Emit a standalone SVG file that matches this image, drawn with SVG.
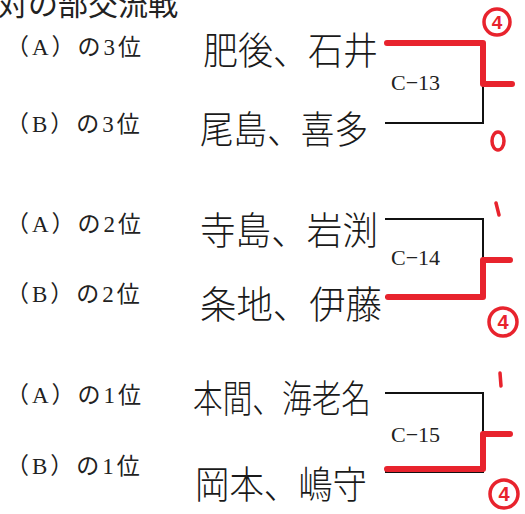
<svg xmlns="http://www.w3.org/2000/svg" width="525" height="514" viewBox="0 0 525 514">
<style>
.lbl{font-family:"Liberation Serif","Noto Sans CJK JP",serif;font-size:23px;fill:#222;letter-spacing:3px}
.nm{font-family:"Noto Sans CJK JP",sans-serif;font-size:38px;fill:#1a1a1a;font-weight:300}
.code{font-family:"Liberation Serif","Noto Sans CJK JP",serif;font-size:22px;fill:#222}
.ln{stroke:#111;stroke-width:2;fill:none}
.red{stroke:#e8232d;stroke-width:6;fill:none;stroke-linecap:round;stroke-linejoin:round}
.rc{stroke:#e8232d;stroke-width:3.5;fill:none;stroke-linecap:round}
.rt{font-family:"Liberation Sans",sans-serif;font-weight:bold;fill:#e8232d}
</style>
<rect width="525" height="514" fill="#fff"/>
<text x="-2" y="15" font-family="Noto Sans CJK JP,serif" font-size="30" fill="#222">対の部交流戦</text>

<g id="rowA3"><text class="lbl" x="6" y="55">（A）の3位</text><text class="nm" x="203" y="64" textLength="175" lengthAdjust="spacingAndGlyphs">肥後、石井</text></g>
<g id="rowB3"><text class="lbl" x="6" y="132">（B）の3位</text><text class="nm" x="200" y="143" textLength="168" lengthAdjust="spacingAndGlyphs">尾島、喜多</text></g>
<g id="rowA2"><text class="lbl" x="6" y="232">（A）の2位</text><text class="nm" x="200" y="244" textLength="178" lengthAdjust="spacingAndGlyphs">寺島、岩渕</text></g>
<g id="rowB2"><text class="lbl" x="6" y="302">（B）の2位</text><text class="nm" x="200" y="318" textLength="182" lengthAdjust="spacingAndGlyphs">条地、伊藤</text></g>
<g id="rowA1"><text class="lbl" x="6" y="403">（A）の1位</text><text class="nm" x="193" y="412" textLength="178" lengthAdjust="spacingAndGlyphs">本間、海老名</text></g>
<g id="rowB1"><text class="lbl" x="6" y="474">（B）の1位</text><text class="nm" x="195" y="498" textLength="172" lengthAdjust="spacingAndGlyphs">岡本、嶋守</text></g>

<g id="connectors">
<path class="ln" d="M385 43H483V123H385M483 84H513"/>
<path class="ln" d="M385 219H483V297H385M483 259H510"/>
<path class="ln" d="M385 393H483V472H385M483 434H510"/>
<path class="red" d="M387 43H483V84H512"/>
<path class="red" d="M388 297H483V260H510"/>
<path class="red" d="M387 469H483V434H510"/>
</g>

<g id="C13"><text class="code" x="391" y="90">C−13</text></g>
<g id="C14"><text class="code" x="391" y="265">C−14</text></g>
<g id="C15"><text class="code" x="391" y="442">C−15</text></g>

<g id="marks">
<circle class="rc" cx="497" cy="22" r="13"/><text class="rt" x="497" y="29" font-size="19" text-anchor="middle">4</text>
<ellipse class="rc" cx="498" cy="141" rx="6" ry="9"/>
<path class="rc" d="M496 203L499 215"/>
<circle class="rc" cx="503" cy="322" r="14"/><text class="rt" x="503" y="329" font-size="20" text-anchor="middle">4</text>
<path class="rc" d="M500 373L501 386"/>
<circle class="rc" cx="504" cy="494" r="14"/><text class="rt" x="504" y="501" font-size="20" text-anchor="middle">4</text>
</g>
</svg>
